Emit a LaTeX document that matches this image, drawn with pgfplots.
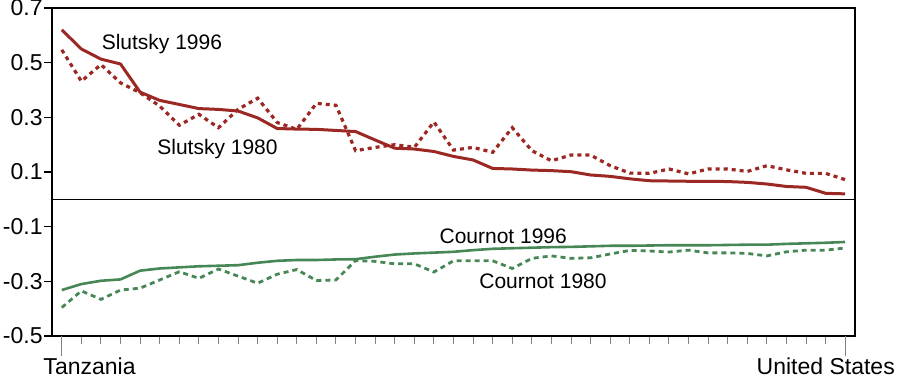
\documentclass[border=0pt]{standalone}
\usepackage{pgfplots}
\pgfplotsset{compat=1.18}
\usepackage{fontspec}
\setmainfont{Liberation Sans}
\definecolor{sred}{RGB}{155,40,35}
\definecolor{cgreen}{RGB}{70,135,85}
\pgfplotstableread{
i s96 s80 c96 c80
0 0.620 0.547 -0.332 -0.396
1 0.550 0.432 -0.310 -0.335
2 0.513 0.493 -0.298 -0.366
3 0.495 0.426 -0.293 -0.332
4 0.392 0.390 -0.261 -0.325
5 0.362 0.341 -0.253 -0.295
6 0.347 0.271 -0.249 -0.265
7 0.332 0.311 -0.245 -0.289
8 0.329 0.262 -0.243 -0.255
9 0.323 0.329 -0.241 -0.281
10 0.298 0.370 -0.232 -0.307
11 0.259 0.281 -0.225 -0.274
12 0.257 0.256 -0.222 -0.257
13 0.256 0.351 -0.222 -0.297
14 0.252 0.344 -0.220 -0.295
15 0.248 0.178 -0.219 -0.224
16 0.217 0.190 -0.210 -0.227
17 0.187 0.200 -0.202 -0.236
18 0.184 0.190 -0.198 -0.236
19 0.175 0.283 -0.195 -0.266
20 0.157 0.180 -0.192 -0.225
21 0.144 0.190 -0.186 -0.225
22 0.113 0.172 -0.181 -0.225
23 0.111 0.262 -0.179 -0.253
24 0.107 0.178 -0.177 -0.216
25 0.105 0.141 -0.175 -0.207
26 0.101 0.162 -0.174 -0.216
27 0.089 0.162 -0.172 -0.214
28 0.084 0.123 -0.170 -0.200
29 0.075 0.096 -0.170 -0.187
30 0.068 0.095 -0.169 -0.189
31 0.067 0.111 -0.168 -0.193
32 0.066 0.093 -0.168 -0.186
33 0.066 0.111 -0.168 -0.196
34 0.065 0.111 -0.167 -0.196
35 0.062 0.102 -0.166 -0.198
36 0.056 0.123 -0.166 -0.207
37 0.047 0.108 -0.163 -0.192
38 0.044 0.095 -0.161 -0.186
39 0.022 0.095 -0.159 -0.186
40 0.020 0.072 -0.156 -0.178
}\datatable
\begin{document}
\begin{tikzpicture}
\begin{axis}[
  scale only axis, width=401.5pt, height=164pt,
  xmin=-0.5, xmax=40.5, ymin=-0.5, ymax=0.7,
  xtick={0,...,40}, xticklabels={},
  ytick={-0.5,-0.3,-0.1,0.1,0.3,0.5,0.7},
  yticklabels={-0.5,-0.3,-0.1,0.1,0.3,0.5,0.7},
  tick pos=left, tick align=outside, major tick length=4pt,
  xtick style={draw=gray, line width=0.5pt},
  ytick style={draw=black, line width=0.6pt},
  yticklabel style={inner sep=0.5pt, font=\fontsize{11.5}{13}\selectfont},
  axis line style={line width=1.1pt},
]
\draw[black, line width=0.7pt] (axis cs:-0.5,0) -- (axis cs:40.5,0);
\addplot[sred, line width=1.5pt, line join=round] table[x=i, y=s96] {\datatable};
\addplot[sred, line width=1.6pt, dash pattern=on 2pt off 2pt] table[x=i, y=s80] {\datatable};
\addplot[cgreen, line width=1.3pt, line join=round] table[x=i, y=c96] {\datatable};
\addplot[cgreen, line width=1.4pt, dash pattern=on 2.5pt off 2pt] table[x=i, y=c80] {\datatable};
\node[anchor=base, font=\fontsize{10.5}{12}\selectfont] at (axis cs:5.11,0.547) {Slutsky 1996};
\node[anchor=base, font=\fontsize{10.5}{12}\selectfont] at (axis cs:7.95,0.165) {Slutsky 1980};
\node[anchor=base, font=\fontsize{10.5}{12}\selectfont] at (axis cs:22.54,-0.162) {Cournot 1996};
\node[anchor=base, font=\fontsize{10.5}{12}\selectfont] at (axis cs:24.57,-0.328) {Cournot 1980};
\coordinate (T0) at (axis cs:0,-0.5);
\coordinate (T40) at (axis cs:40,-0.5);
\coordinate (SW) at (rel axis cs:0,0);
\coordinate (NE) at (rel axis cs:1,1);
\end{axis}
\draw[gray, line width=0.5pt] (T0) -- ++(0,-10pt);
\draw[gray, line width=0.5pt] (T40) -- ++(0,-10pt);
\node[anchor=base west, inner sep=0pt, font=\fontsize{11.5}{13}\selectfont] at ([shift={(-9.35pt,-19.2pt)}]T0) {Tanzania};
\node[anchor=base east, inner sep=0pt, font=\fontsize{11.5}{13}\selectfont] at ([shift={(25pt,-19.2pt)}]T40) {United States};
\pgfresetboundingbox
\path ([shift={(-26pt,-22.5pt)}]SW) rectangle ([shift={(21.5pt,4pt)}]NE);
\end{tikzpicture}
\end{document}
